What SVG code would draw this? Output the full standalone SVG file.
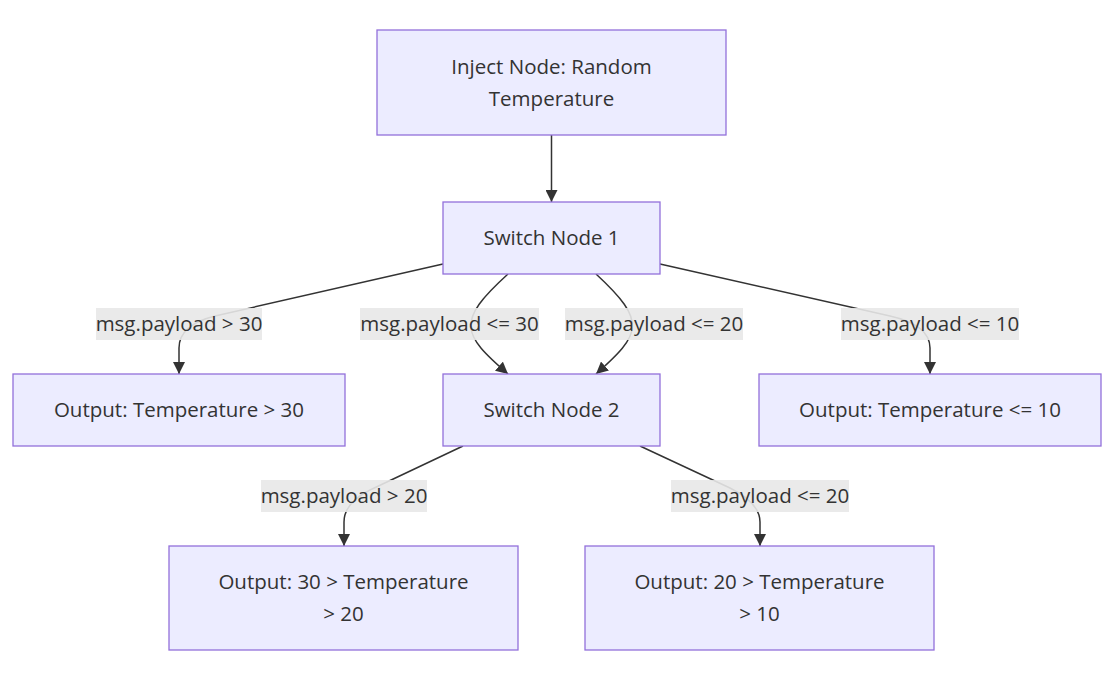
<svg xmlns="http://www.w3.org/2000/svg" width="1113" height="674" viewBox="0 0 1113 674">
<style>
.node rect{fill:#ECECFF;stroke:#9370DB;stroke-width:1.3}
text{font-family:"Open Sans","Noto Sans","Liberation Sans",sans-serif;font-size:20.5px;fill:#333;text-anchor:middle;dominant-baseline:central}
.edge{fill:none;stroke:#333;stroke-width:1.5;marker-end:url(#arr)}
.lbl rect{fill:#e8e8e8;opacity:0.9}
</style>
<defs>
<marker id="arr" viewBox="0 0 10 10" refX="10" refY="5" markerWidth="12" markerHeight="12" markerUnits="userSpaceOnUse" orient="auto">
<path d="M0,0 L10,5 L0,10 z" fill="#333"/>
</marker>
</defs>
<rect width="1113" height="674" fill="#fff"/>
<g id="connectors">
<path class="edge" d="M551.5,135 L551.5,202"/>
<path class="edge" d="M443,264 L215,316 Q179,325 179,348 L179,374"/>
<path class="edge" d="M508,274 C455,322 462,334 508,374"/>
<path class="edge" d="M596,274 C648,322 641,334 596,374"/>
<path class="edge" d="M660,264 L890,316 Q930,325 930,348 L930,374"/>
<path class="edge" d="M463,446 L370,490 Q344,503 344,522 L344,546"/>
<path class="edge" d="M640,446 L730,488 Q760,503 760,522 L760,546"/>
</g>
<g id="edge-labels">
<g class="lbl"><rect x="96" y="308" width="166" height="32"/><text x="179" y="323">msg.payload &gt; 30</text></g>
<g class="lbl"><rect x="360" y="308" width="179" height="32"/><text x="449.5" y="323">msg.payload &lt;= 30</text></g>
<g class="lbl"><rect x="565" y="308" width="178" height="32"/><text x="654" y="323">msg.payload &lt;= 20</text></g>
<g class="lbl"><rect x="841" y="308" width="178" height="32"/><text x="930" y="323">msg.payload &lt;= 10</text></g>
<g class="lbl"><rect x="261" y="480" width="166" height="32"/><text x="344" y="495">msg.payload &gt; 20</text></g>
<g class="lbl"><rect x="671" y="480" width="178" height="32"/><text x="760" y="495">msg.payload &lt;= 20</text></g>
</g>
<g id="inject" class="node"><rect x="377" y="30" width="349" height="105"/><text x="551.5" y="66">Inject Node: Random</text><text x="551.5" y="98">Temperature</text></g>
<g id="switch1" class="node"><rect x="443" y="202" width="217" height="72"/><text x="551.5" y="237">Switch Node 1</text></g>
<g id="out30" class="node"><rect x="13" y="374" width="332" height="72"/><text x="179" y="409">Output: Temperature &gt; 30</text></g>
<g id="switch2" class="node"><rect x="443" y="374" width="217" height="72"/><text x="551.5" y="409">Switch Node 2</text></g>
<g id="out10" class="node"><rect x="759" y="374" width="342" height="72"/><text x="930" y="409">Output: Temperature &lt;= 10</text></g>
<g id="out3020" class="node"><rect x="169" y="546" width="349" height="104"/><text x="343.5" y="581">Output: 30 &gt; Temperature</text><text x="343.5" y="613">&gt; 20</text></g>
<g id="out2010" class="node"><rect x="585" y="546" width="349" height="104"/><text x="759.5" y="581">Output: 20 &gt; Temperature</text><text x="759.5" y="613">&gt; 10</text></g>
</svg>
